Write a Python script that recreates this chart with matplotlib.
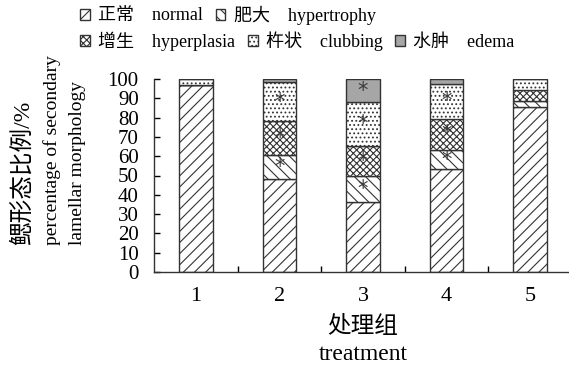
import matplotlib.pyplot as plt
from matplotlib.patches import Patch
import numpy as np

plt.rcParams['font.family'] = ['Liberation Serif', 'Noto Sans CJK SC']
plt.rcParams['hatch.linewidth'] = 0.8

groups = ['1', '2', '3', '4', '5']
normal = [97.0, 48.0, 36.5, 53.5, 85.5]
hypertrophy = [0.0, 12.5, 13.5, 9.5, 3.0]
hyperplasia = [0.0, 17.5, 15.5, 16.5, 6.0]
clubbing = [3.0, 20.5, 22.5, 18.0, 5.5]
edema = [0.0, 1.5, 12.0, 2.5, 0.0]

# significance marks (*) per category, per group
star_hypertrophy = [False, True, True, True, False]
star_hyperplasia = [False, True, True, True, False]
star_clubbing = [False, True, True, True, False]
star_edema = [False, False, True, False, False]

labels = ['正常    normal', '肥大    hypertrophy', '增生    hyperplasia',
          '杵状    clubbing', '水肿    edema']
series = [normal, hypertrophy, hyperplasia, clubbing, edema]
stars = [[False] * 5, star_hypertrophy, star_hyperplasia, star_clubbing, star_edema]
hatches = ['///', '\\\\\\', 'xxxxx', '....', '']
faces = ['white', 'white', 'white', 'white', '#a6a6a6']

fig = plt.figure(figsize=(5.69, 3.72), dpi=100)
ax = fig.add_axes([154 / 569, 1 - 272 / 372, 418 / 569, 193 / 372])

x = np.arange(1, len(groups) + 1)
bottom = np.zeros(len(groups))
for vals, hatch, face, st in zip(series, hatches, faces, stars):
    vals = np.array(vals)
    ax.bar(x, vals, width=0.4, bottom=bottom, facecolor=face, hatch=hatch,
           edgecolor='#333333', linewidth=1.0)
    for xi, b, v, s in zip(x, bottom, vals, st):
        if s and v > 0:
            ax.text(xi, b + v / 2, '*', ha='center', va='center', fontsize=15,
                    color='#3a3a3a', family='DejaVu Sans')
    bottom += vals

ax.set_xlim(0.5, 5.5)
ax.set_ylim(0, 100)
ax.set_yticks(np.arange(0, 101, 10))
ax.set_xticks(x)
ax.set_xticklabels(groups)
ax.set_xticks(np.arange(1.5, 5.0, 1.0), minor=True)
ax.tick_params(axis='y', direction='in', length=4, width=1, pad=11, labelsize=15)
ax.tick_params(axis='x', which='major', length=0, pad=11, labelsize=16)
ax.tick_params(axis='x', which='minor', direction='in', length=4, width=1)
for side in ['top', 'right']:
    ax.spines[side].set_visible(False)
for side in ['left', 'bottom']:
    ax.spines[side].set_linewidth(1.0)
    ax.spines[side].set_color('#333333')

# y label in three columns
fig.text(23 / 569, 1 - 245 / 372, '鳃形态比例/%', rotation=90, ha='center', va='bottom', fontsize=17)
fig.text(52 / 569, 1 - 245 / 372, 'percentage of secondary', rotation=90, ha='center', va='bottom', fontsize=14)
fig.text(78 / 569, 1 - 245 / 372, 'lamellar morphology', rotation=90, ha='center', va='bottom', fontsize=14)

fig.text(363 / 569, 1 - 327 / 372, '处理组', ha='center', va='center', fontsize=17)
fig.text(363 / 569, 1 - 355 / 372, 'treatment', ha='center', va='center', fontsize=17)

handles = [Patch(facecolor=f, hatch=h, edgecolor='#333333', linewidth=1.0)
           for f, h in zip(faces, hatches)]
leg_kw = dict(frameon=False, fontsize=13, handlelength=0.55, handleheight=0.55,
              handletextpad=0.45, columnspacing=0.7, borderaxespad=0, borderpad=0)
fig.legend(handles[:2], labels[:2], ncol=2, loc='center left',
           bbox_to_anchor=(80 / 569, 1 - 15 / 372), **leg_kw)
fig.legend(handles[2:], labels[2:], ncol=3, loc='center left',
           bbox_to_anchor=(80 / 569, 1 - 41 / 372), **leg_kw)

fig.savefig('out.png', dpi=100)
